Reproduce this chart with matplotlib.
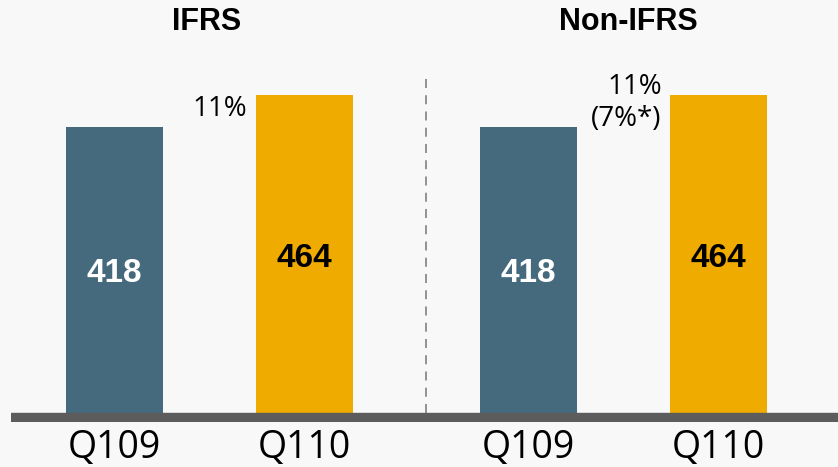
import matplotlib
matplotlib.use("Agg")
import matplotlib.pyplot as plt

# data
groups = ["IFRS", "Non-IFRS"]
quarters = ["Q109", "Q110", "Q109", "Q110"]
values = [418, 464, 418, 464]
positions = [0, 1, 2.18, 3.18]
growth_labels = ["11%", "11%\n(7%*)"]

bg = "#f8f8f8"
slate = "#45697d"
gold = "#f0ab00"
colors = [slate, gold, slate, gold]

fig = plt.figure(figsize=(8.38, 4.67), dpi=100, facecolor=bg)
# axes: left edge at baseline start, bottom at the bottom of the grey baseline
ax = fig.add_axes([11 / 838, 45 / 467, 827 / 838, 362 / 467])
ax.set_facecolor(bg)

bars = ax.bar(positions, values, width=0.51, color=colors, zorder=2)
ax.set_xlim(-0.545, 3.808)
ax.set_ylim(-13.1, 515.3)

# thick grey baseline
ax.axhspan(-13.1, 0, color="#5c5c5c", zorder=3)

# dashed separator between the two groups
ax.plot([1.64, 1.64], [0, 496], color="#8a8a8a", linestyle=(0, (5, 4)),
        linewidth=1.3, zorder=1)

# value labels roughly in the middle of each bar
for pos, val, col in zip(positions, values, colors):
    ax.text(pos, val / 2 - 6, str(val), ha="center", va="center",
            fontsize=24, fontweight="bold", family="Liberation Sans",
            color="white" if col == slate else "black", zorder=4)

# growth labels to the left of the gold bars
ax.text(positions[1] - 0.3, 444, growth_labels[0], ha="right", va="center",
        fontsize=20, family="Open Sans", color="black")
ax.text(positions[3] - 0.3, 452, growth_labels[1], ha="right", va="center",
        fontsize=20, family="Open Sans", color="black",
        multialignment="right", linespacing=1.2)

ax.set_xticks(positions)
ax.set_xticklabels(quarters, fontsize=27, family="Open Sans")
ax.tick_params(axis="x", length=0, pad=5)
ax.set_yticks([])
for s in ax.spines.values():
    s.set_visible(False)

# group titles
fig.text(207 / 838, 1 - 22 / 467, groups[0], ha="center", va="center",
         fontsize=22, fontweight="bold", family="Liberation Sans")
fig.text(628 / 838, 1 - 22 / 467, groups[1], ha="center", va="center",
         fontsize=22, fontweight="bold", family="Liberation Sans")

fig.savefig("out.png", dpi=100, facecolor=bg)
